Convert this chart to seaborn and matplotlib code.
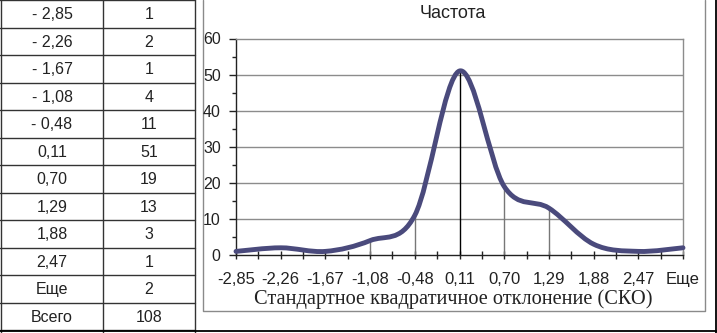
import numpy as np
import matplotlib
matplotlib.use('Agg')
import matplotlib.pyplot as plt
import seaborn as sns
from matplotlib.path import Path
from matplotlib.patches import PathPatch
from matplotlib.ticker import MultipleLocator

table_bins = ['- 2,85', '- 2,26', '- 1,67', '- 1,08', '- 0,48', '0,11',
              '0,70', '1,29', '1,88', '2,47', 'Еще', 'Всего']
table_counts = ['1', '2', '1', '4', '11', '51', '19', '13', '3', '1', '2', '108']
categories = ['-2,85', '-2,26', '-1,67', '-1,08', '-0,48', '0,11',
              '0,70', '1,29', '1,88', '2,47', 'Еще']
frequency = [1, 2, 1, 4, 11, 51, 19, 13, 3, 1, 2]
drop_cats = ['-1,08', '-0,48', '0,11', '0,70', '1,29']

sns.set_theme(style='white')
plt.rcParams['font.family'] = ['Liberation Sans', 'DejaVu Sans']

W, H = 717, 333
fig = plt.figure(figsize=(W / 100, H / 100), dpi=100)

# background layer in pixel coordinates for table and frames
bg = fig.add_axes([0, 0, 1, 1])
bg.set_xlim(0, W)
bg.set_ylim(H, 0)
bg.axis('off')

row_h = 27.5
line_col = '#333333'
for i in range(len(table_bins) + 1):
    bg.plot([0, 195], [i * row_h, i * row_h], color=line_col, lw=1)
for xv in [0.5, 103, 195]:
    bg.plot([xv, xv], [0, H], color=line_col, lw=1)
for i, (b, c) in enumerate(zip(table_bins, table_counts)):
    yc = i * row_h + row_h / 2 + 1
    bg.text(52, yc, b, ha='center', va='center', fontsize=11.5, color='#222222')
    bg.text(149, yc, c, ha='center', va='center', fontsize=11.5, color='#222222')

# outer frame and chart box
bg.plot([0, W], [H - 2, H - 2], color='black', lw=1.3)
bg.plot([W - 1, W - 1], [0, H], color='black', lw=1.3)
bg.plot([203, 203, 705, 705], [0, 311, 311, 0], color='#8a8a8a', lw=1)

bg.text(453, 14, 'Частота', ha='center', va='center', fontsize=13, color='#222222')
bg.text(453, 299, 'Стандартное квадратичное отклонение (СКО)', ha='center',
        va='center', fontsize=14.7, family=['Liberation Serif', 'DejaVu Serif'],
        color='#222222')

# main plot area
x0, x1, ytop, ybot = 236, 683, 38.5, 255
ax = fig.add_axes([x0 / W, (H - ybot) / H, (x1 - x0) / W, (ybot - ytop) / H])
ax.set_facecolor('none')

pos = np.arange(len(categories))
ax.set_xlim(pos[0], pos[-1])
ax.set_ylim(0, 60)

for yv in range(10, 60, 10):
    ax.axhline(yv, color='#8c8c8c', lw=1, zorder=1)

# drop lines from axis to curve
for c in drop_cats:
    k = categories.index(c)
    col = 'black' if c == '0,11' else '#777777'
    ax.vlines(pos[k], 0, frequency[k], color=col, lw=1, zorder=2)

# smoothed line (Excel-style bezier through the data points)
pts = np.column_stack([pos, frequency]).astype(float)
ext = np.vstack([pts[0], pts, pts[-1]])
verts = [tuple(pts[0])]
codes = [Path.MOVETO]
for i in range(len(pts) - 1):
    p0, p1, p2, p3 = ext[i], ext[i + 1], ext[i + 2], ext[i + 3]
    c1 = p1 + (p2 - p0) / 6
    c2 = p2 - (p3 - p1) / 6
    verts += [tuple(c1), tuple(c2), tuple(p2)]
    codes += [Path.CURVE4] * 3
ax.add_patch(PathPatch(Path(verts, codes), facecolor='none',
                       edgecolor='#4a4a7c', lw=3.5, capstyle='round',
                       joinstyle='round', zorder=3, clip_on=False))

ax.set_xticks(pos)
ax.set_xticklabels(categories)
ax.xaxis.set_minor_locator(MultipleLocator(0.5))
ax.yaxis.set_major_locator(MultipleLocator(10))
ax.yaxis.set_minor_locator(MultipleLocator(5))

for s in ['top', 'right']:
    ax.spines[s].set_color('#8c8c8c')
    ax.spines[s].set_linewidth(1)
for s in ['left', 'bottom']:
    ax.spines[s].set_color('#222222')
    ax.spines[s].set_linewidth(1)

ax.tick_params(axis='y', which='major', direction='out', length=5, width=1,
               color='#222222', labelsize=11.5, pad=6, labelcolor='#222222', left=True)
ax.tick_params(axis='y', which='minor', direction='out', length=3, width=1,
               color='#222222', left=True)
ax.tick_params(axis='x', which='both', direction='inout', length=6, width=1,
               color='#222222', labelsize=12, pad=9, labelcolor='#222222', bottom=True)

fig.savefig('out.png', dpi=100)
